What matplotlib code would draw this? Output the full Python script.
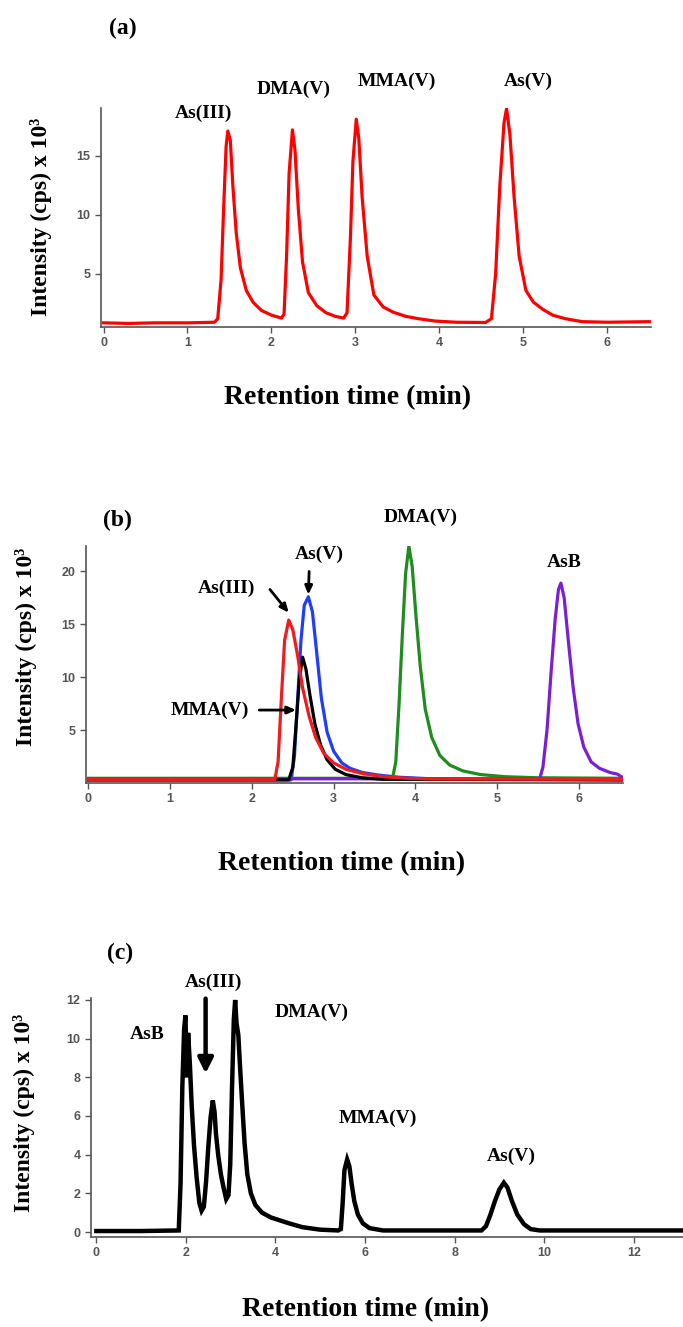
import matplotlib
matplotlib.use("Agg")
import matplotlib.pyplot as plt

plt.rcParams['font.family'] = 'Liberation Serif'
plt.rcParams['font.weight'] = 'bold'

YLABEL = 'Intensity (cps) x 10³'
XLABEL = 'Retention time (min)'

# (a) standard mixture
a_time = [0, 0.3, 0.6, 1.0, 1.32, 1.36, 1.40, 1.43, 1.46, 1.48, 1.51, 1.54, 1.58,
          1.63, 1.70, 1.78, 1.88, 2.00, 2.12, 2.15, 2.18, 2.21, 2.25, 2.28, 2.32,
          2.37, 2.44, 2.54, 2.65, 2.76, 2.86, 2.90, 2.94, 2.97, 3.01, 3.04, 3.08,
          3.14, 3.22, 3.33, 3.45, 3.60, 3.75, 3.95, 4.20, 4.55, 4.62, 4.67, 4.72,
          4.77, 4.80, 4.84, 4.89, 4.95, 5.03, 5.12, 5.23, 5.35, 5.50, 5.70, 6.00, 6.50]
a_int = [0.85, 0.8, 0.85, 0.85, 0.9, 1.2, 4.5, 10.5, 15.8, 17.1, 16.3, 12.5, 8.5,
         5.5, 3.6, 2.6, 1.9, 1.5, 1.25, 1.6, 6.5, 13.5, 17.2, 15.5, 10.5,
         6.0, 3.4, 2.3, 1.7, 1.4, 1.25, 1.7, 8.0, 14.5, 18.1, 16.5, 11.5,
         6.5, 3.2, 2.2, 1.75, 1.4, 1.2, 1.0, 0.9, 0.88, 1.2, 5.0, 12.5,
         17.8, 19.0, 16.8, 11.5, 6.5, 3.6, 2.6, 2.0, 1.5, 1.2, 0.95, 0.9, 0.95]
a_labels = ['As(III)', 'DMA(V)', 'MMA(V)', 'As(V)']
a_label_x = [1.19, 2.27, 3.49, 5.06]
a_label_y = [18.6, 20.6, 21.3, 21.3]

# (b) single standards
b_red_time = [0, 2.28, 2.32, 2.36, 2.40, 2.45, 2.50, 2.56, 2.62, 2.70, 2.78, 2.88,
              3.00, 3.15, 3.35, 3.60, 3.90, 4.20, 6.52]
b_red_int = [0.35, 0.35, 2.0, 8.0, 13.5, 15.4, 14.5, 12.0, 9.0, 6.3, 4.3, 2.8,
             1.9, 1.3, 0.9, 0.6, 0.45, 0.38, 0.35]
b_black_time = [0, 2.45, 2.50, 2.54, 2.58, 2.62, 2.66, 2.71, 2.77, 2.84, 2.92,
                3.02, 3.15, 3.35, 3.60, 6.52]
b_black_int = [0.3, 0.3, 1.5, 5.5, 9.8, 11.9, 10.8, 8.3, 5.6, 3.6, 2.2,
               1.3, 0.8, 0.5, 0.35, 0.3]
b_blue_time = [0, 2.48, 2.52, 2.56, 2.60, 2.64, 2.69, 2.74, 2.79, 2.85, 2.92, 3.00,
               3.10, 3.20, 3.35, 3.55, 3.80, 4.20, 6.52]
b_blue_int = [0.3, 0.3, 2.5, 8.0, 13.5, 16.8, 17.6, 16.2, 12.5, 8.0, 4.8, 3.0,
              1.9, 1.4, 1.0, 0.75, 0.55, 0.4, 0.3]
b_green_time = [0, 3.72, 3.76, 3.80, 3.84, 3.88, 3.92, 3.96, 4.01, 4.06, 4.12, 4.20,
                4.30, 4.42, 4.58, 4.80, 5.10, 5.50, 6.52]
b_green_int = [0.45, 0.45, 2.0, 7.5, 14.0, 19.8, 22.4, 20.5, 15.5, 11.0, 7.0, 4.3,
               2.6, 1.7, 1.15, 0.8, 0.6, 0.5, 0.45]
b_purple_time = [0, 5.52, 5.56, 5.61, 5.66, 5.71, 5.75, 5.78, 5.82, 5.87, 5.93, 5.99,
                 6.06, 6.15, 6.25, 6.38, 6.47, 6.52]
b_purple_int = [0.4, 0.4, 1.5, 5.0, 10.5, 15.5, 18.3, 18.9, 17.5, 13.5, 9.0, 5.6,
                3.4, 2.0, 1.4, 1.0, 0.85, 0.6]
b_labels = ['DMA(V)', 'AsB', 'As(V)', 'As(III)', 'MMA(V)']
b_label_x = [4.07, 5.82, 2.82, 1.69, 1.48]
b_label_y = [25.1, 20.8, 21.6, 18.4, 6.9]

# (c) sample extract
c_time = [0, 1.0, 1.84, 1.88, 1.92, 1.96, 1.99, 2.02, 2.05, 2.09, 2.13, 2.18, 2.24,
          2.30, 2.35, 2.40, 2.45, 2.50, 2.55, 2.60, 2.64, 2.67, 2.72, 2.78, 2.84,
          2.90, 2.95, 2.99, 3.03, 3.07, 3.10, 3.13, 3.17, 3.21, 3.26, 3.31, 3.37,
          3.45, 3.55, 3.70, 3.90, 4.10, 4.30, 4.60, 5.00, 5.40, 5.46, 5.50, 5.54,
          5.60, 5.65, 5.70, 5.76, 5.84, 5.95, 6.10, 6.40, 8.60, 8.70, 8.80, 8.90,
          9.00, 9.10, 9.18, 9.28, 9.40, 9.55, 9.70, 9.90, 13.1]
c_int = [0.05, 0.05, 0.08, 2.5, 7.5, 10.5, 11.2, 8.0, 10.3, 8.6, 6.5, 4.5, 2.8,
         1.5, 1.1, 1.3, 2.6, 4.4, 5.9, 6.8, 6.2, 5.1, 4.0, 3.0, 2.3,
         1.7, 1.9, 3.5, 7.5, 11.0, 12.0, 10.8, 10.2, 8.5, 6.5, 4.6, 3.0,
         2.0, 1.4, 1.0, 0.75, 0.6, 0.45, 0.25, 0.12, 0.08, 0.15, 1.5, 3.2,
         3.75, 3.4, 2.5, 1.6, 0.9, 0.45, 0.2, 0.08, 0.08, 0.3, 0.9, 1.6,
         2.2, 2.55, 2.3, 1.6, 0.9, 0.4, 0.15, 0.08, 0.08]
c_labels = ['As(III)', 'AsB', 'DMA(V)', 'MMA(V)', 'As(V)']
c_label_x = [2.62, 1.13, 4.81, 6.28, 9.27]
c_label_y = [12.9, 10.2, 11.35, 5.9, 3.9]


def style_axes(ax):
    for side in ['top', 'right']:
        ax.spines[side].set_visible(False)
    for side in ['left', 'bottom']:
        ax.spines[side].set_color('#555555')
        ax.spines[side].set_linewidth(1.2)
    ax.tick_params(direction='out', length=4, width=1, color='#555555',
                   labelsize=9, labelcolor='#555555',
                   labelfontfamily='Liberation Sans')


def peak_labels(ax, labels, xs, ys):
    for lab, x, y in zip(labels, xs, ys):
        ax.text(x, y, lab, fontsize=14, fontweight='bold', ha='center',
                va='center', clip_on=False)


def axis_labels(ax, tag, tag_xy, xlab_xy, ylab_xy):
    ax.text(*tag_xy, tag, transform=ax.transAxes, fontsize=17,
            fontweight='bold', ha='center', va='center')
    ax.set_xlabel(XLABEL, fontsize=20, fontweight='bold', va='center')
    ax.xaxis.set_label_coords(*xlab_xy)
    ax.set_ylabel(YLABEL, fontsize=17, fontweight='bold', va='center')
    ax.yaxis.set_label_coords(*ylab_xy)


fig = plt.figure(figsize=(6.83, 13.27), dpi=100)

# panel (a)
ax = fig.add_axes([0.1479, 0.7536, 0.8052, 0.165])
ax.plot(a_time, a_int, color='#ff0000', lw=2.3, solid_joinstyle='round')
ax.set_xlim(-0.03, 6.52)
ax.set_ylim(0.5, 19.05)
ax.set_xticks(range(7))
ax.set_yticks([5, 10, 15])
style_axes(ax)
peak_labels(ax, a_labels, a_label_x, a_label_y)
axis_labels(ax, '(a)', (0.04, 1.365), (0.449, -0.324), (-0.109, 0.502))

# panel (b)
ax = fig.add_axes([0.1259, 0.4099, 0.7863, 0.1786])
ax.plot(b_blue_time, b_blue_int, color='#1f3cff', lw=2.3)
ax.plot(b_green_time, b_green_int, color='#1e8c1e', lw=2.3)
ax.plot(b_purple_time, b_purple_int, color='#7a1fd6', lw=2.3)
ax.plot(b_black_time, b_black_int, color='#000000', lw=2.3)
ax.plot(b_red_time, b_red_int, color='#ee1c1c', lw=2.3)
ax.set_xlim(-0.03, 6.54)
ax.set_ylim(0, 22.4)
ax.set_xticks(range(7))
ax.set_yticks([5, 10, 15, 20])
style_axes(ax)
peak_labels(ax, b_labels, b_label_x, b_label_y)
arrow = dict(arrowstyle='-|>,head_length=0.5,head_width=0.22', lw=2, color='k',
             shrinkA=0, shrinkB=0)
ax.annotate('', xy=(2.45, 16.1), xytext=(2.22, 18.3), arrowprops=arrow,
            annotation_clip=False)
ax.annotate('', xy=(2.69, 17.8), xytext=(2.70, 20.0), arrowprops=arrow,
            annotation_clip=False)
ax.annotate('', xy=(2.54, 6.9), xytext=(2.09, 6.9), arrowprops=arrow)
axis_labels(ax, '(b)', (0.058, 1.11), (0.475, -0.338), (-0.112, 0.574))

# panel (c)
ax = fig.add_axes([0.1332, 0.0678, 0.8668, 0.1801])
ax.plot(c_time, c_int, color='#000000', lw=3.2, solid_joinstyle='miter')
ax.set_xlim(-0.12, 13.1)
ax.set_ylim(-0.26, 12.1)
ax.set_xticks(range(0, 13, 2))
ax.set_yticks(range(0, 13, 2))
style_axes(ax)
peak_labels(ax, c_labels, c_label_x, c_label_y)
ax.annotate('', xy=(2.44, 8.2), xytext=(2.44, 12.07),
            arrowprops=dict(arrowstyle='-|>,head_length=0.9,head_width=0.45',
                            lw=3.2, color='k', shrinkA=0, shrinkB=0),
            annotation_clip=False)
axis_labels(ax, '(c)', (0.049, 1.188), (0.463, -0.305), (-0.113, 0.519))

fig.savefig('out.png', dpi=100)
